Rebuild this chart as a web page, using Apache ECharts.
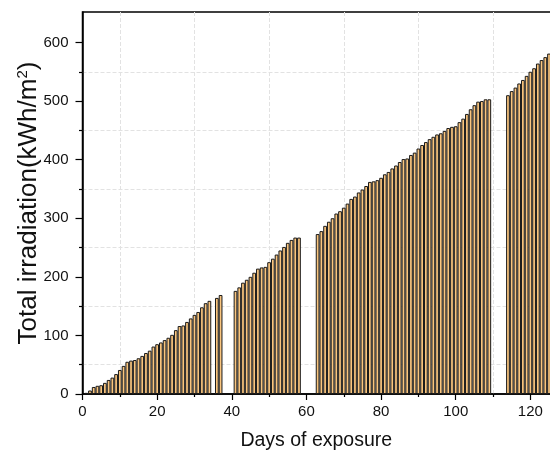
<!DOCTYPE html>
<html><head><meta charset="utf-8">
<script src="https://cdn.jsdelivr.net/npm/echarts@6/dist/echarts.min.js"></script>
<style>html,body{margin:0;padding:0;background:#fff;overflow:hidden}#c{width:550px;height:457px}</style>
</head><body><div id="c"></div>
<script>
const days = [1,2,3,4,5,6,7,8,9,10,11,12,13,14,15,16,17,18,19,20,21,22,23,24,25,26,27,28,29,30,31,32,33,34,
  36,37,
  41,42,43,44,45,46,47,48,49,50,51,52,53,54,55,56,57,58,
  63,64,65,66,67,68,69,70,71,72,73,74,75,76,77,78,79,80,81,82,83,84,85,86,87,88,89,90,91,92,93,94,95,96,97,98,99,100,101,102,103,104,105,106,107,108,109,
  114,115,116,117,118,119,120,121,122,123,124,125];
const irradiation = [2,6,12,14,15,19,24,28,34,41,48,55,57,58,61,65,70,74,81,85,88,92,96,101,109,116,117,123,129,135,140,148,155,159,
  164,169,
  176,182,190,195,200,207,214,216,217,225,231,238,245,251,258,263,267,267,
  273,278,287,294,300,308,312,318,325,333,337,344,349,355,362,363,365,369,375,379,385,390,396,401,402,408,412,419,425,430,435,439,443,445,449,454,456,457,464,470,478,486,493,499,500,503,503,
  510,517,523,530,536,543,550,556,564,570,575,581];
const yMajorTicks = [0,100,200,300,400,500,600];
const yMinorTicks = [50,150,250,350,450,550];
const xTitle = 'Days of exposure';
const yTitle = 'Total irradiation(kWh/m{sup|2})';

const font = 'Liberation Sans, Arial, sans-serif';
const chart = echarts.init(document.getElementById('c'));
chart.setOption({
  animation: false,
  backgroundColor: '#fff',
  grid: {left: 82.5, top: 12, width: 522.5, height: 382, show: true, borderColor: '#000', borderWidth: 1.5,
         backgroundColor: 'rgba(0,0,0,0)', outerBoundsMode: 'none', containLabel: false},
  xAxis: {
    type: 'value', min: 0, max: 140, interval: 20,
    axisLine: {show: true, lineStyle: {color: '#000', width: 1.5}},
    axisTick: {show: true, length: 6, lineStyle: {color: '#000', width: 1.2}},
    minorTick: {show: true, splitNumber: 2, length: 3, lineStyle: {color: '#000', width: 1.2}},
    axisLabel: {fontSize: 15, color: '#111', margin: 10, fontFamily: font},
    splitLine: {show: false},
    minorSplitLine: {show: true, lineStyle: {color: '#e2e2e2', type: 'dashed', width: 1}},
    name: xTitle, nameLocation: 'middle', nameGap: 37,
    nameTextStyle: {fontSize: 19.5, color: '#111', fontFamily: font, padding: [0, 55, 0, 0]}
  },
  yAxis: [{
    type: 'value', min: 0, max: 652, interval: 50,
    axisLine: {show: true, lineStyle: {color: '#000', width: 1.5}},
    axisTick: {show: true, length: 3.5, customValues: yMinorTicks, lineStyle: {color: '#000', width: 1.2}},
    axisLabel: {show: false},
    splitLine: {show: true, lineStyle: {color: '#e2e2e2', type: 'dashed', width: 1}},
    name: yTitle, nameLocation: 'middle', nameGap: 41,
    nameTextStyle: {fontSize: 26, color: '#111', fontFamily: font, padding: [0, 0, 0, 0],
      rich: {sup: {fontSize: 15, verticalAlign: 'top', fontFamily: font, color: '#111', padding: [0, 0, 10, 0]}}}
  }, {
    type: 'value', min: 0, max: 652, interval: 100, position: 'left', offset: 0,
    axisLine: {show: false},
    axisTick: {show: true, length: 7, customValues: yMajorTicks, lineStyle: {color: '#000', width: 1.2}},
    axisLabel: {show: true, customValues: yMajorTicks, fontSize: 15, color: '#111', margin: 14, fontFamily: font},
    splitLine: {show: false}
  }],
  series: [{
    type: 'bar',
    data: days.map((d, i) => [d, irradiation[i]]),
    barWidth: '100%',
    itemStyle: {color: '#F9C57E', borderColor: '#1a1a1a', borderWidth: 1}
  }]
});
</script></body></html>
